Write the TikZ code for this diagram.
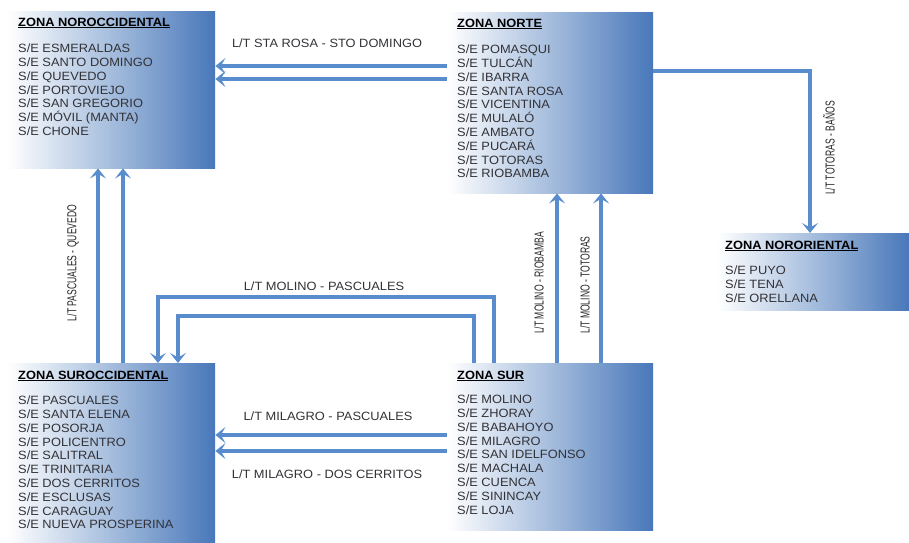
\documentclass[tikz,border=0pt]{standalone}
\usepackage{fontspec}
\setmainfont{Liberation Sans}[FakeStretch=1.07]
\newfontfamily\narrowfont[FakeStretch=0.66]{Liberation Sans}
\usetikzlibrary{arrows.meta}

\definecolor{lineblue}{RGB}{88,140,205}
\definecolor{boxblue}{RGB}{72,119,186}
\definecolor{boxmid}{RGB}{165,189,221}
\definecolor{txt}{RGB}{50,50,55}

\pgfdeclarehorizontalshading{zonefill}{100bp}{%
  color(0bp)=(white); color(25bp)=(white); color(50bp)=(boxmid);
  color(75bp)=(boxblue); color(100bp)=(boxblue)}

\tikzset{
  zone/.style={rectangle, inner sep=0pt, anchor=north west, shading=zonefill},
  zonetitle/.style={anchor=base west, inner sep=0pt, font=\fontsize{12}{13.8}\selectfont\bfseries, text=black},
  zonelist/.style={anchor=north west, inner sep=0pt, align=left, text=txt,
    font=\fontsize{12}{13.8}\selectfont},
  link/.style={draw=lineblue, line width=4.5pt,
    -{Stealth[length=10pt, width=16pt, inset=4.5pt]}},
  hlabel/.style={inner sep=0pt, text=txt, font=\fontsize{12}{14}\selectfont},
  vlabel/.style={inner sep=0pt, text=black!85, rotate=90, font=\fontsize{13}{15}\narrowfont}
}

\begin{document}
\begin{tikzpicture}[x=1pt, y=-1pt]
\useasboundingbox (0,0) rectangle (909,542);

% zone boxes
\node[zone, minimum width=208pt, minimum height=157pt] (nocc) at (7,11) {};
\node[zone, minimum width=206pt, minimum height=181pt] (norte) at (447,12) {};
\node[zone, minimum width=192pt, minimum height=77pt] (nori) at (717,233) {};
\node[zone, minimum width=208pt, minimum height=179pt] (socc) at (7,363) {};
\node[zone, minimum width=206pt, minimum height=167pt] (sur) at (447,363) {};

% zone contents
\node[zonetitle] (nocc-t) at (18,26) {\underline{ZONA NOROCCIDENTAL}};
\node[zonelist] (nocc-l) at (18,43.7) {S/E ESMERALDAS\\S/E SANTO DOMINGO\\S/E QUEVEDO\\S/E PORTOVIEJO\\S/E SAN GREGORIO\\S/E MÓVIL (MANTA)\\S/E CHONE};

\node[zonetitle] (norte-t) at (457,27) {\underline{ZONA NORTE}};
\node[zonelist] (norte-l) at (457,44.7) {S/E POMASQUI\\S/E TULCÁN\\S/E IBARRA\\S/E SANTA ROSA\\S/E VICENTINA\\S/E MULALÓ\\S/E AMBATO\\S/E PUCARÁ\\S/E TOTORAS\\S/E RIOBAMBA};

\node[zonetitle] (nori-t) at (725,249) {\underline{ZONA NORORIENTAL}};
\node[zonelist] (nori-l) at (725,265.7) {S/E PUYO\\S/E TENA\\S/E ORELLANA};

\node[zonetitle] (socc-t) at (18,379) {\underline{ZONA SUROCCIDENTAL}};
\node[zonelist] (socc-l) at (18,395.7) {S/E PASCUALES\\S/E SANTA ELENA\\S/E POSORJA\\S/E POLICENTRO\\S/E SALITRAL\\S/E TRINITARIA\\S/E DOS CERRITOS\\S/E ESCLUSAS\\S/E CARAGUAY\\S/E NUEVA PROSPERINA};

\node[zonetitle] (sur-t) at (457,379) {\underline{ZONA SUR}};
\node[zonelist] (sur-l) at (457,394.7) {S/E MOLINO\\S/E ZHORAY\\S/E BABAHOYO\\S/E MILAGRO\\S/E SAN IDELFONSO\\S/E MACHALA\\S/E CUENCA\\S/E SININCAY\\S/E LOJA};

% routing guides for the transmission lines
\coordinate (yA) at (0,66);
\coordinate (yB) at (0,79);
\coordinate (yC) at (0,71);
\coordinate (xC) at (810,0);
\coordinate (xD) at (98,0);
\coordinate (xE) at (123,0);
\coordinate (xF) at (494,0);
\coordinate (yF) at (0,297);
\coordinate (xF2) at (158,0);
\coordinate (xG) at (474,0);
\coordinate (yG) at (0,316);
\coordinate (xG2) at (178,0);
\coordinate (xH) at (557,0);
\coordinate (xI) at (601,0);
\coordinate (yJ) at (0,435);
\coordinate (yK) at (0,451);

% transmission lines
\draw[link] (norte.west |- yA) -- (nocc.east |- yA);
\draw[link] (norte.west |- yB) -- (nocc.east |- yB);
\draw[link] (norte.east |- yC) -- (xC |- yC) -- (nori.north -| xC);
\draw[link] (socc.north -| xD) -- (nocc.south -| xD);
\draw[link] (socc.north -| xE) -- (nocc.south -| xE);
\draw[link] (sur.north -| xF) -- (xF |- yF) -- (xF2 |- yF) -- (socc.north -| xF2);
\draw[link] (sur.north -| xG) -- (xG |- yG) -- (xG2 |- yG) -- (socc.north -| xG2);
\draw[link] (sur.north -| xH) -- (norte.south -| xH);
\draw[link] (sur.north -| xI) -- (norte.south -| xI);
\draw[link] (sur.west |- yJ) -- (socc.east |- yJ);
\draw[link] (sur.west |- yK) -- (socc.east |- yK);

% line labels
\node[hlabel] (l-sr) at (327,43) {L/T STA ROSA - STO DOMINGO};
\node[hlabel] (l-mp) at (324,286) {L/T MOLINO - PASCUALES};
\node[hlabel] (l-mip) at (328,416) {L/T MILAGRO - PASCUALES};
\node[hlabel] (l-mdc) at (327,474) {L/T MILAGRO - DOS CERRITOS};
\node[vlabel] (l-pq) at (73,263) {L/T PASCUALES - QUEVEDO};
\node[vlabel] (l-mr) at (539,283) {L/T MOLINO - RIOBAMBA};
\node[vlabel] (l-mt) at (585,285) {L/T MOLINO - TOTORAS};
\node[vlabel] (l-tb) at (829,148) {L/T TOTORAS - BAÑOS};
\end{tikzpicture}
\end{document}
